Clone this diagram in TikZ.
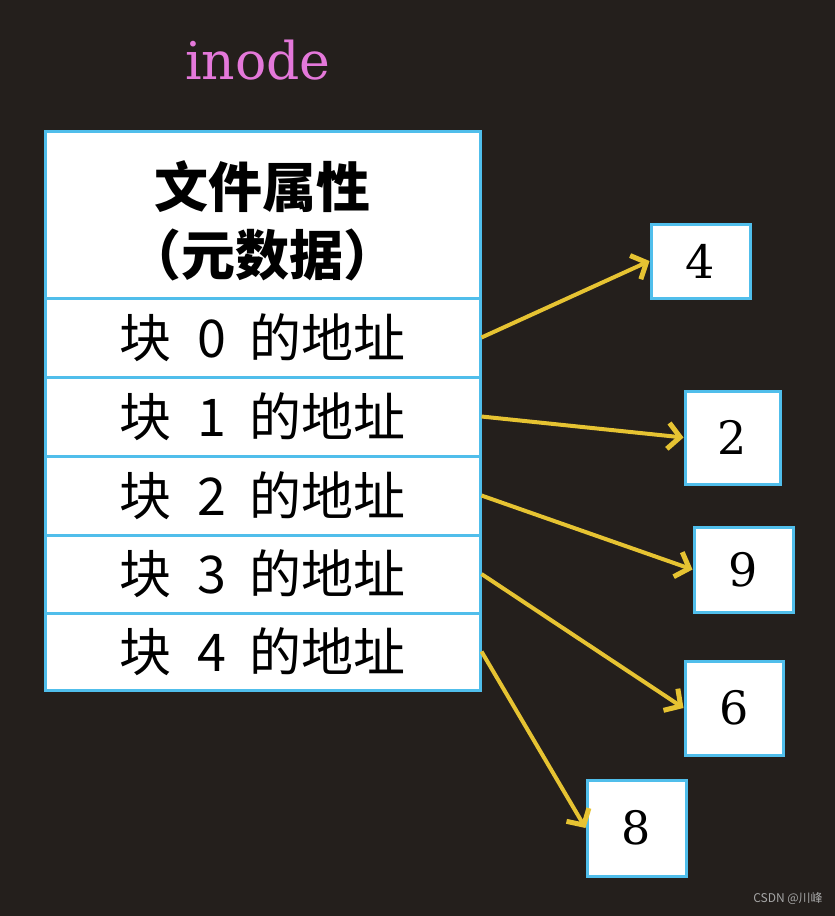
\documentclass[tikz,border=0pt]{standalone}
\usepackage{fontspec}
\newfontfamily\cjk{Noto Sans CJK SC}
\newfontfamily\numfont{DejaVu Serif}
\usetikzlibrary{arrows.meta}
\definecolor{bgdark}{RGB}{36,31,28}
\definecolor{edgeblue}{RGB}{80,190,235}
\definecolor{ptryellow}{RGB}{230,195,50}
\definecolor{titlepink}{RGB}{228,120,218}
\begin{document}
\begin{tikzpicture}[x=1pt,y=-1pt,
	cell/.style={draw=edgeblue, line width=3pt, fill=white, minimum width=435pt, minimum height=79pt, inner sep=0pt, font=\cjk\fontsize{52}{60}\selectfont},
	blk/.style={draw=edgeblue, line width=3pt, fill=white, inner sep=0pt, font=\numfont\fontsize{46}{54}\selectfont},
	ptr/.style={draw=ptryellow, line width=4pt, -{Straight Barb[length=12pt,width=26pt,line width=5pt]}}]
		\fill[bgdark] (0,0) rectangle (835,916);
		\node[text=titlepink, font=\numfont\fontsize{52}{60}\selectfont] (title) at (258,60) {inode};
		% inode table
		\node[cell, minimum height=167pt, align=center, font=\cjk\bfseries\fontsize{54}{68}\selectfont] (meta) at (262.5,214.5) {};
		\node[font=\cjk\bfseries\fontsize{54}{68}\selectfont, align=center] (metatxt) at ([yshift=-6pt]meta.center) {文件属性\\（元数据）};
		\node[cell] (r0) at (262.5,337.5) {块\hspace{0.5em}0\hspace{0.45em}的地址};
		\node[cell] (r1) at (262.5,416.5) {块\hspace{0.5em}1\hspace{0.45em}的地址};
		\node[cell] (r2) at (262.5,495.5) {块\hspace{0.5em}2\hspace{0.45em}的地址};
		\node[cell, minimum height=78pt] (r3) at (262.5,574) {块\hspace{0.5em}3\hspace{0.45em}的地址};
		\node[cell, minimum height=77pt] (r4) at (262.5,651.5) {块\hspace{0.5em}4\hspace{0.45em}的地址};
		% data blocks
		\node[blk, minimum width=99pt, minimum height=74pt] (b4) at (700.5,261) {4};
		\node[blk, minimum width=95pt, minimum height=93pt] (b2) at (732.5,437.5) {2};
		\node[blk, minimum width=99pt, minimum height=85pt] (b9) at (743.5,569.5) {9};
		\node[blk, minimum width=98pt, minimum height=94pt] (b6) at (734,708) {6};
		\node[blk, minimum width=99pt, minimum height=96pt] (b8) at (636.5,828) {8};
		\draw[ptr] (r0.east) -- (b4.west);
		\draw[ptr] (r1.east) -- (b2.west);
		\draw[ptr] (r2.east) -- (b9.west);
		\draw[ptr] (r3.east) -- (b6.west);
		\draw[ptr] (r4.east) -- (b8.west);
		\node[text=gray!70, font=\cjk\fontsize{12}{14}\selectfont] (wm) at (788,898) {CSDN @川峰};
	\end{tikzpicture}
\end{document}
